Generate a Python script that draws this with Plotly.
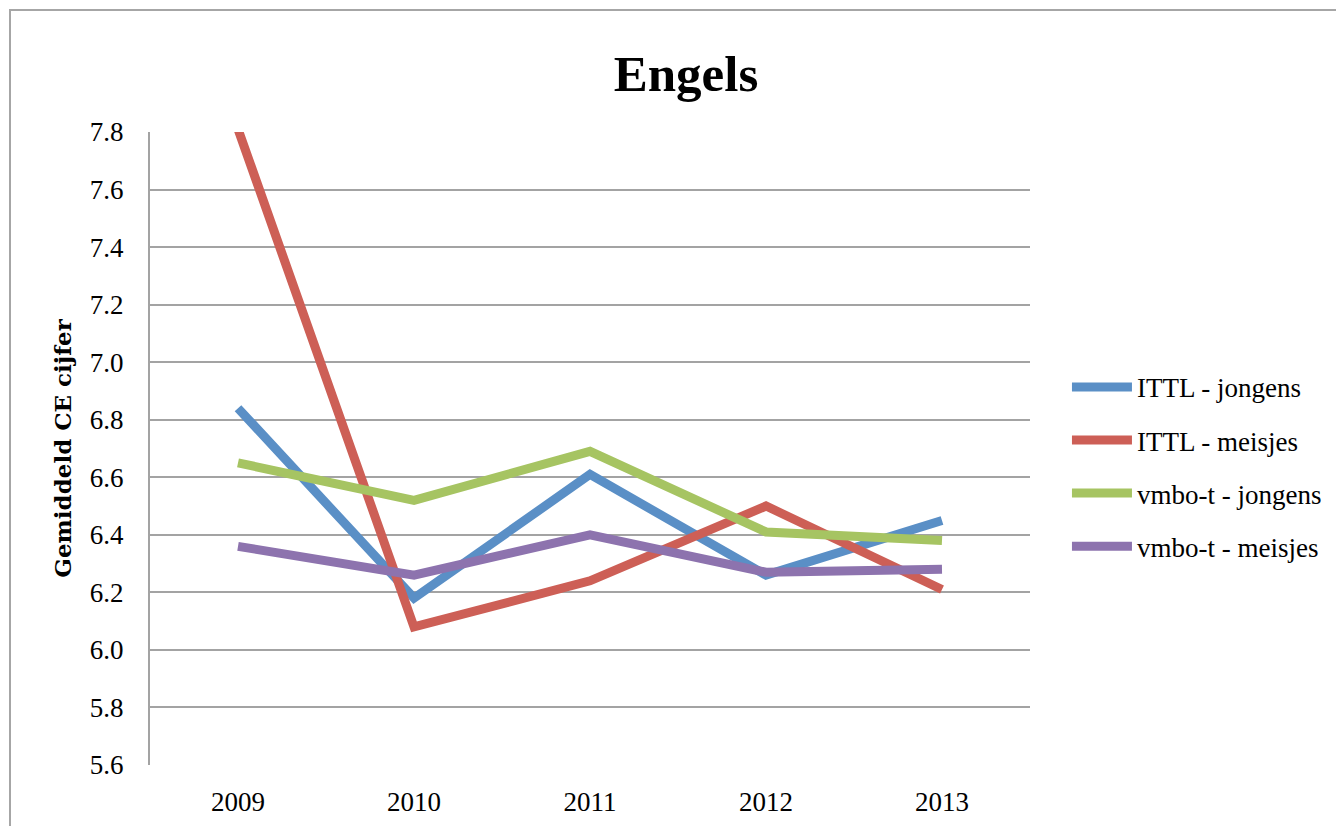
import plotly.graph_objects as go

years = ["2009", "2010", "2011", "2012", "2013"]
ittl_jongens = [6.84, 6.18, 6.61, 6.26, 6.45]
ittl_meisjes = [7.81, 6.08, 6.24, 6.50, 6.21]
vmbo_jongens = [6.65, 6.52, 6.69, 6.41, 6.38]
vmbo_meisjes = [6.36, 6.26, 6.40, 6.27, 6.28]
y_ticks = [5.6, 5.8, 6.0, 6.2, 6.4, 6.6, 6.8, 7.0, 7.2, 7.4, 7.6, 7.8]

series = [
    ("ITTL - jongens", ittl_jongens, "#5a8fc6"),
    ("ITTL - meisjes", ittl_meisjes, "#cd5f56"),
    ("vmbo-t - jongens", vmbo_jongens, "#a6c462"),
    ("vmbo-t - meisjes", vmbo_meisjes, "#8d73ae"),
]

FONT = "Liberation Serif"

fig = go.Figure()
for name, vals, col in series:
    fig.add_trace(go.Scatter(
        x=years, y=vals, name=name, mode="lines", legendgroup=name,
        line=dict(color=col, width=9),
    ))

fig.update_layout(
    width=1336, height=818,
    margin=dict(l=142, r=314, t=124, b=61, autoexpand=False),
    paper_bgcolor="white", plot_bgcolor="white",
    font=dict(family=FONT, size=26, color="black"),
    title=dict(text="<b>Engels</b>", x=(678 - 142) / 880, xanchor="center",
               xref="paper", y=1 - 65 / 818, yanchor="middle",
               font=dict(family=FONT, size=51, color="black")),
    showlegend=True,
    legend=dict(x=1.042, xanchor="left", y=0.471, yanchor="middle",
                font=dict(family=FONT, size=27), tracegroupgap=15,
                itemwidth=60, traceorder="grouped", bgcolor="rgba(0,0,0,0)"),
    shapes=[dict(type="rect", xref="paper", yref="paper",
                 x0=-140 / 880, x1=1.5, y0=-0.5, y1=1 + 122 / 633,
                 line=dict(color="#a6a6a6", width=2), layer="below")],
)
fig.update_xaxes(type="category", range=[-0.5, 4.5], showgrid=False,
                 showline=False, ticks="", zeroline=False, automargin=False,
                 ticklabelstandoff=18,
                 tickfont=dict(family=FONT, size=27))
fig.update_yaxes(range=[5.6, 7.8], tickvals=y_ticks,
                 ticktext=[f"{v:.1f}" for v in y_ticks],
                 showgrid=True, gridcolor="#a3a3a3", gridwidth=2,
                 showline=True, linecolor="#a3a3a3", linewidth=2,
                 ticks="", zeroline=False, ticklabelstandoff=19, automargin=False,
                 tickfont=dict(family=FONT, size=27),
                 title=dict(text="<b>Gemiddeld CE cijfer</b>", standoff=12,
                            font=dict(family="DejaVu Serif", size=23)))

fig.write_html("out.html")
